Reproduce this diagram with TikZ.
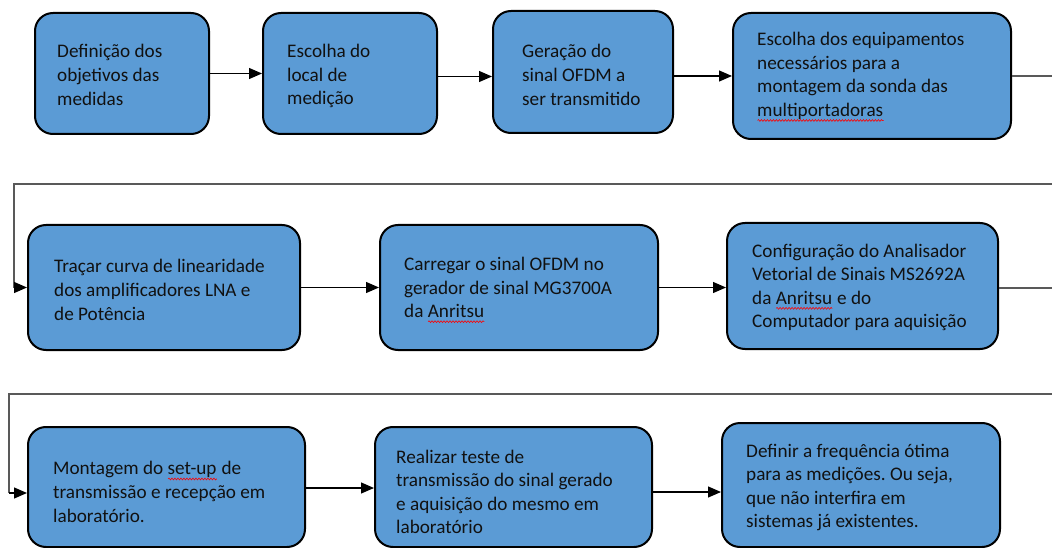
\documentclass[tikz,border=0pt]{standalone}
\usepackage{fontspec}
\setmainfont{Carlito}
\usetikzlibrary{arrows.meta,decorations.pathmorphing}
\definecolor{boxblue}{HTML}{5B9BD5}
\definecolor{txt}{HTML}{111111}
\newcommand\spellmark[1]{\setbox0\hbox{#1}\rlap{\usebox0}\tikz[baseline=0pt, x=1pt, y=1pt, sharp corners]\draw[red, line width=0.6pt, decorate, decoration={snake, amplitude=0.9pt, segment length=3pt}] (0pt,-4pt) -- (\the\wd0,-4pt);}
\tikzset{
  stage/.style={draw=black, line width=2pt, fill=boxblue, rounded corners=18pt, inner sep=0pt},
  label/.style={anchor=west, align=left, inner sep=0pt, text=txt,
    font=\fontsize{19.2pt}{23.6pt}\selectfont\frenchspacing},
  flow/.style={draw=black, line width=1.2pt, -{Triangle[length=13pt,width=11pt]}},
  longline/.style={draw=black!65, line width=1.4pt},
}
\begin{document}
\begin{tikzpicture}[x=1pt,y=-1pt]
\useasboundingbox (0,0) rectangle (1052,548);
% row 1
\node[stage, minimum width=174pt, minimum height=121pt] (b1) at (122,73.5) {};
\node[stage, minimum width=174pt, minimum height=121pt] (b2) at (350,73.5) {};
\node[stage, minimum width=180pt, minimum height=122pt] (b3) at (583,72) {};
\node[stage, minimum width=278pt, minimum height=126pt] (b4) at (872,76) {};
% row 2
\node[stage, minimum width=272pt, minimum height=125pt] (b5) at (164,287.5) {};
\node[stage, minimum width=278pt, minimum height=125pt] (b6) at (519,287.5) {};
\node[stage, minimum width=271pt, minimum height=126pt] (b7) at (862.5,286) {};
% row 3
\node[stage, minimum width=277pt, minimum height=120pt] (b8) at (166.5,487) {};
\node[stage, minimum width=277pt, minimum height=120pt] (b9) at (513.5,487) {};
\node[stage, minimum width=278pt, minimum height=124pt] (b10) at (861,485) {};
% texts
\node[label] (t1) at ([xshift=23pt,yshift=-1.5pt]b1.west) {Definição dos\\objetivos das\\medidas};
\node[label] (t2) at ([xshift=25pt,yshift=-2.5pt]b2.west) {Escolha do\\local de\\medição};
\node[label] (t3) at ([xshift=30pt,yshift=-3pt]b3.west) {Geração do\\sinal OFDM a\\ser transmitido};
\node[label] (t4) at ([xshift=25pt,yshift=-1pt]b4.west) {Escolha dos equipamentos\\necessários para a\\montagem da sonda das\\\spellmark{multiportadoras}};
\node[label] (t5) at ([xshift=27pt,yshift=-2.5pt]b5.west) {Traçar curva de linearidade\\dos amplificadores LNA e\\de Potência};
\node[label] (t6) at ([xshift=25pt,yshift=-2.5pt]b6.west) {Carregar o sinal OFDM no\\gerador de sinal MG3700A\\da \spellmark{Anritsu}};
\node[label] (t7) at ([xshift=26pt,yshift=-1.5pt]b7.west) {Configuração do Analisador\\Vetorial de Sinais MS2692A\\da \spellmark{Anritsu} e do\\Computador para aquisição};
\node[label] (t8) at ([xshift=26pt,yshift=-5pt]b8.west) {Montagem do \spellmark{set-up} de\\transmissão e recepção em\\laboratório.};
\node[label] (t9) at ([xshift=22pt,yshift=-5pt]b9.west) {Realizar teste de\\transmissão do sinal gerado\\e aquisição do mesmo em\\laboratório};
\node[label] (t10) at ([xshift=25pt,yshift=-2.5pt]b10.west) {Definir a frequência ótima\\para as medições. Ou seja,\\que não interfira em\\sistemas já existentes.};
% connectors
\coordinate (edge) at (1052,0);
\coordinate (r2s) at (1052,184);
\coordinate (r2c) at (14,184);
\coordinate (r3s) at (1052,394);
\coordinate (r3c) at (9,394);
\coordinate (b8in) at ([yshift=-6pt]b8.west);
\draw[flow] (b1.east) -- (b1.east -| b2.west);
\draw[flow] ([yshift=-3pt]b2.east) -- ([yshift=-3pt]b2.east -| b3.west);
\draw[flow] ([yshift=-4pt]b3.east) -- ([yshift=-4pt]b3.east -| b4.west);
\draw[longline] (b4.east) -- (b4.east -| edge);
\draw[longline] (r2s) -- (r2c) -- (r2c |- b5.west);
\draw[flow] (r2c |- b5.west) -- (b5.west);
\draw[flow] (b5.east) -- (b5.east -| b6.west);
\draw[flow] (b6.east) -- (b6.east -| b7.west);
\draw[longline] ([yshift=-2pt]b7.east) -- ([yshift=-2pt]b7.east -| edge);
\draw[longline] (r3s) -- (r3c) -- (r3c |- b8in);
\draw[flow] (r3c |- b8in) -- (b8in);
\draw[flow] ([yshift=-1pt]b8.east) -- ([yshift=-1pt]b8.east -| b9.west);
\draw[flow] ([yshift=-5pt]b9.east) -- ([yshift=-5pt]b9.east -| b10.west);
\end{tikzpicture}
\end{document}
